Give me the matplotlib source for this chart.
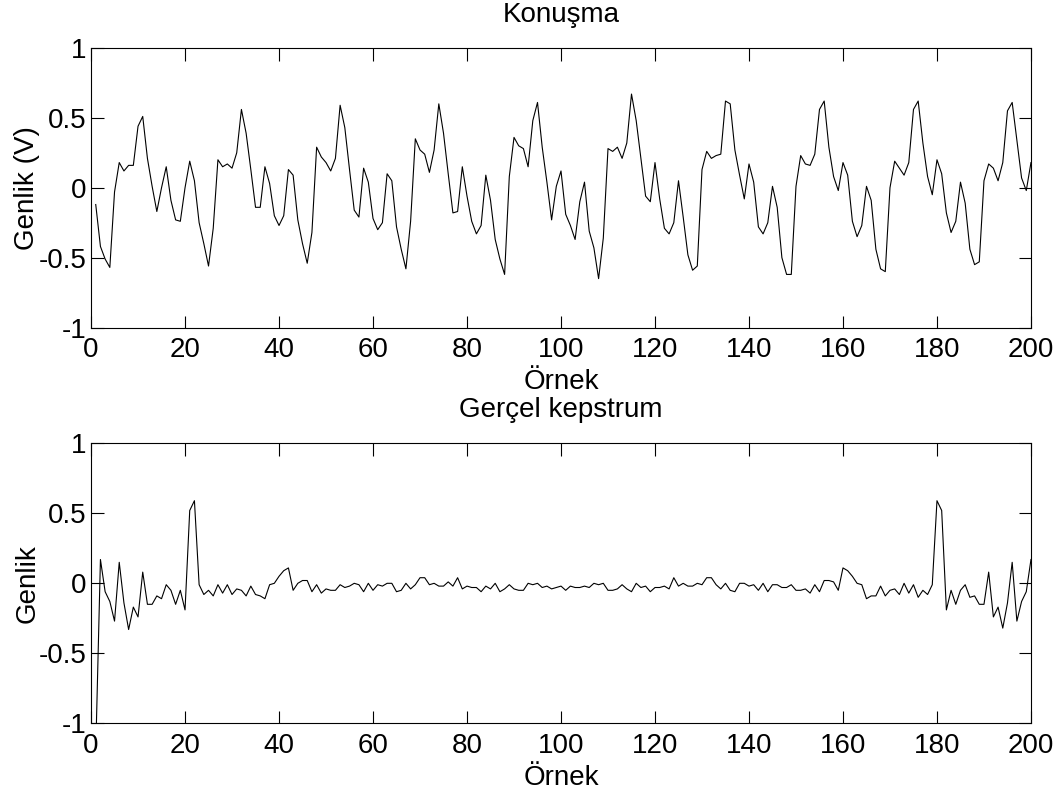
import numpy as np
import matplotlib
matplotlib.use("Agg")
import matplotlib.pyplot as plt

# samples 1..200
n = np.arange(1, 201)

speech = [
    -0.12, -0.42, -0.51, -0.57, -0.03, 0.18, 0.12, 0.16, 0.16, 0.44,
    0.51, 0.21, 0.01, -0.17, 0.0, 0.15, -0.09, -0.23, -0.24, 0.0,
    0.19, 0.05, -0.25, -0.40, -0.56, -0.29, 0.20, 0.15, 0.17, 0.14,
    0.25, 0.56, 0.39, 0.13, -0.14, -0.14, 0.15, 0.03, -0.20, -0.27,
    -0.20, 0.13, 0.09, -0.23, -0.40, -0.54, -0.32, 0.29, 0.22, 0.18,
    0.12, 0.21, 0.59, 0.43, 0.13, -0.16, -0.21, 0.14, 0.04, -0.22,
    -0.30, -0.25, 0.10, 0.05, -0.28, -0.44, -0.58, -0.24, 0.35, 0.27,
    0.24, 0.11, 0.27, 0.60, 0.39, 0.10, -0.18, -0.17, 0.15, -0.06,
    -0.24, -0.33, -0.27, 0.09, -0.09, -0.37, -0.51, -0.62, 0.08, 0.36,
    0.30, 0.28, 0.15, 0.48, 0.61, 0.29, 0.04, -0.23, 0.01, 0.12,
    -0.19, -0.27, -0.37, -0.10, 0.04, -0.31, -0.43, -0.65, -0.36, 0.28,
    0.26, 0.29, 0.21, 0.32, 0.67, 0.48, 0.21, -0.06, -0.10, 0.18,
    -0.08, -0.29, -0.33, -0.25, 0.05, -0.21, -0.48, -0.59, -0.56, 0.13,
    0.26, 0.21, 0.23, 0.24, 0.62, 0.60, 0.27, 0.09, -0.08, 0.17,
    0.04, -0.28, -0.33, -0.25, 0.01, -0.14, -0.50, -0.62, -0.62, 0.01,
    0.23, 0.17, 0.16, 0.24, 0.56, 0.62, 0.29, 0.08, -0.02, 0.18,
    0.09, -0.24, -0.35, -0.27, 0.01, -0.09, -0.44, -0.58, -0.60, 0.0,
    0.19, 0.14, 0.09, 0.18, 0.56, 0.62, 0.32, 0.08, -0.05, 0.20,
    0.10, -0.18, -0.32, -0.24, 0.04, -0.11, -0.44, -0.55, -0.53, 0.05,
    0.17, 0.14, 0.05, 0.18, 0.55, 0.61, 0.34, 0.07, -0.02, 0.18,
]

cepstrum = [
    -1.20, 0.17, -0.06, -0.13, -0.27, 0.15, -0.14, -0.33, -0.17, -0.24,
    0.08, -0.15, -0.15, -0.09, -0.11, -0.01, -0.05, -0.15, -0.05, -0.19,
    0.52, 0.59, -0.01, -0.08, -0.05, -0.09, -0.01, -0.07, -0.01, -0.08,
    -0.04, -0.05, -0.09, -0.02, -0.08, -0.09, -0.11, -0.01, 0.0, 0.05,
    0.09, 0.11, -0.05, 0.0, 0.02, 0.02, -0.06, -0.01, -0.07, -0.04,
    -0.05, -0.05, -0.01, -0.03, -0.02, 0.0, -0.01, -0.06, 0.0, -0.05,
    -0.01, -0.02, 0.0, 0.0, -0.06, -0.05, 0.0, -0.04, -0.01, 0.04,
    0.04, -0.01, 0.0, -0.02, -0.02, 0.01, -0.02, 0.04, -0.04, -0.02,
    -0.03, -0.03, -0.06, -0.02, -0.04, 0.0, -0.06, -0.04, -0.01, -0.04,
    -0.05, -0.05, 0.0, -0.01, 0.0, -0.03, -0.02, -0.04, -0.03, -0.02,
    -0.05, -0.02, -0.03, -0.03, -0.02, -0.03, 0.0, -0.01, 0.0, -0.05,
    -0.05, -0.04, -0.01, -0.04, -0.06, 0.0, -0.03, -0.02, -0.06, -0.03,
    -0.03, -0.02, -0.04, 0.04, -0.02, 0.0, -0.02, -0.02, 0.0, -0.01,
    0.04, 0.04, -0.01, -0.04, 0.0, -0.05, -0.06, 0.0, 0.0, -0.02,
    -0.01, -0.05, 0.0, -0.06, -0.01, -0.01, -0.03, -0.03, -0.01, -0.05,
    -0.05, -0.04, -0.07, -0.01, -0.06, 0.02, 0.02, 0.01, -0.05, 0.11,
    0.09, 0.05, 0.0, -0.01, -0.11, -0.09, -0.09, -0.02, -0.09, -0.05,
    -0.04, -0.08, 0.0, -0.07, -0.01, -0.10, -0.05, -0.08, -0.01, 0.59,
    0.52, -0.19, -0.05, -0.15, -0.05, -0.01, -0.10, -0.09, -0.15, -0.15,
    0.08, -0.24, -0.17, -0.32, -0.14, 0.15, -0.27, -0.13, -0.06, 0.17,
]

xticks = np.arange(0, 201, 20)
yticks = [-1, -0.5, 0, 0.5, 1]
yticklabels = ["-1", "-0.5", "0", "0.5", "1"]

plt.rcParams['font.family'] = ['Liberation Sans', 'DejaVu Sans']
fs = 20

fig = plt.figure(figsize=(10.61, 7.96), dpi=100)
ax1 = fig.add_axes([0.0858, 0.5885, 0.8859, 0.3513])
ax2 = fig.add_axes([0.0858, 0.0913, 0.8859, 0.3518])


def style(ax, title, ylabel):
    ax.set_xlim(0, 200)
    ax.set_ylim(-1, 1)
    ax.set_xticks(xticks)
    ax.set_yticks(yticks)
    ax.set_yticklabels(yticklabels)
    ax.tick_params(direction='in', length=9, width=0.8, top=True, right=True,
                   labelsize=fs)
    ax.tick_params(axis='x', pad=7)
    ax.tick_params(axis='y', pad=3)
    for s in ax.spines.values():
        s.set_linewidth(0.8)
    ax.set_title(title, fontsize=fs, pad=19)
    ax.set_xlabel('Örnek', fontsize=fs, labelpad=4)
    ax.set_ylabel(ylabel, fontsize=fs, labelpad=-1)


ax1.plot(n, speech, color='black', linewidth=0.8)
style(ax1, 'Konuşma', 'Genlik (V)')

ax2.plot(n, cepstrum, color='black', linewidth=0.8)
style(ax2, 'Gerçel kepstrum', 'Genlik')

fig.savefig('out.png', dpi=100)
